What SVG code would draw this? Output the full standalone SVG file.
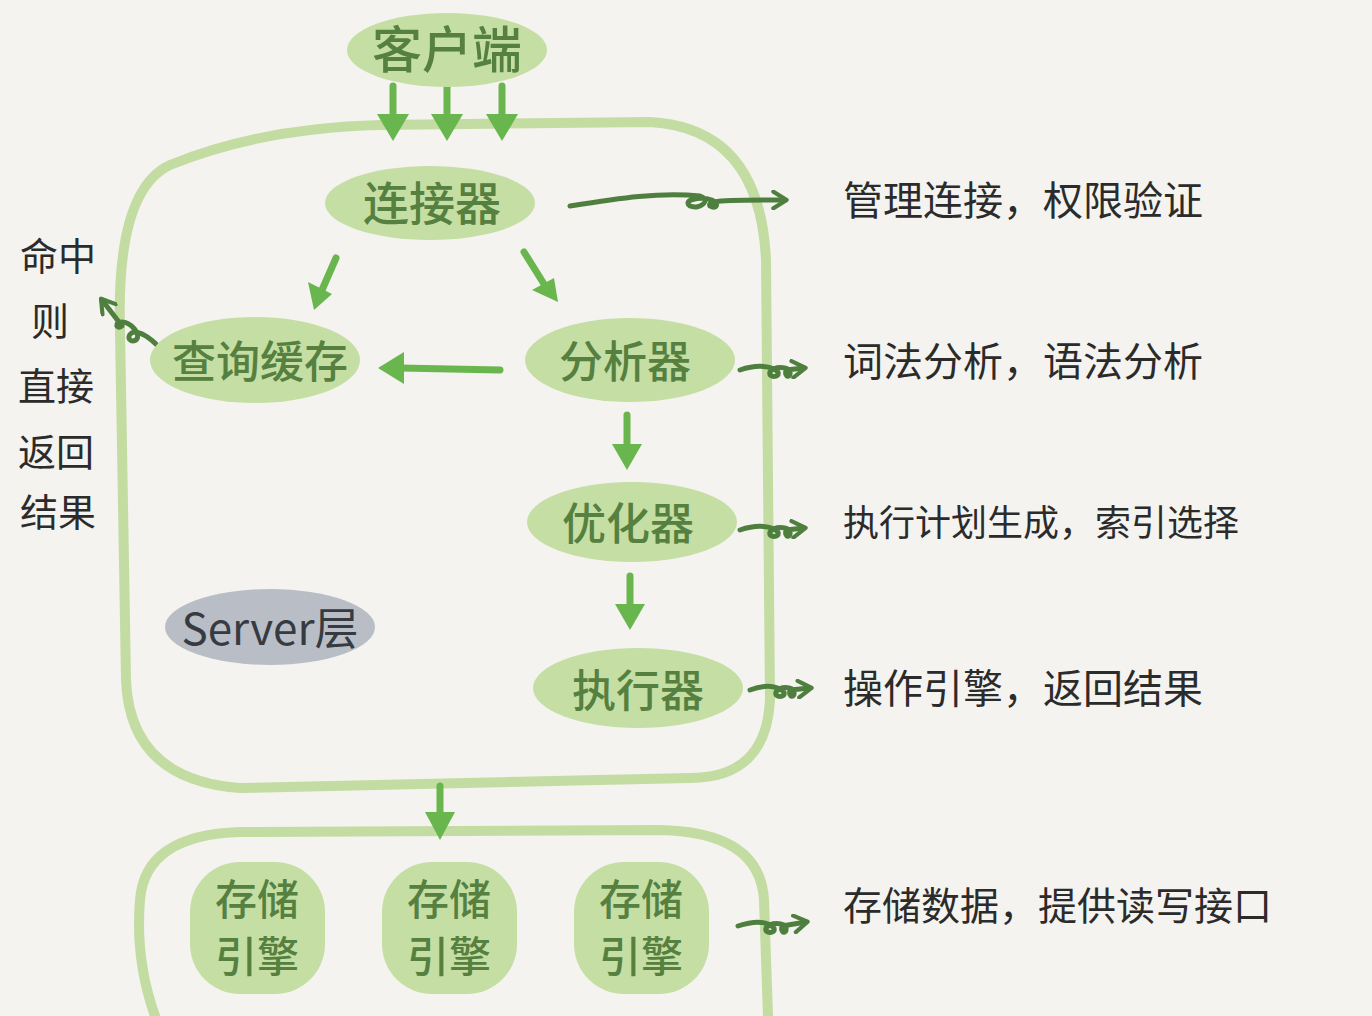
<svg xmlns="http://www.w3.org/2000/svg" width="1372" height="1016" viewBox="0 0 1372 1016">
<defs>
<style>
.bg{fill:#f4f3ef}
.node{fill:#c5dea4}
.frame{fill:none;stroke:#c3dca2;stroke-width:10;stroke-linecap:round;stroke-linejoin:round}
.lbl{font-family:"Noto Sans CJK SC","Noto Sans",sans-serif;fill:#55803f;font-weight:500;text-anchor:middle}
.note{font-family:"Noto Sans CJK SC","Noto Sans",sans-serif;fill:#2b2b2b}
.arr{stroke:#6ab64e;stroke-width:7;fill:none;stroke-linecap:round}
.head{fill:#6ab64e}
.curl{stroke:#4f7f3f;stroke-width:5;fill:none;stroke-linecap:round;stroke-linejoin:round}
</style>
<marker id="chev" viewBox="0 0 12 12" refX="9" refY="6" markerWidth="4" markerHeight="4" orient="auto" markerUnits="strokeWidth">
<path d="M2,1 L10,6 L2,11" fill="none" stroke="#4f7f3f" stroke-width="2.5" stroke-linecap="round" stroke-linejoin="round"/>
</marker>
</defs>
<rect class="bg" x="0" y="0" width="1372" height="1016"/>

<g id="server-frame">
<path class="frame" d="M380,125 L650,122 Q760,128 766,260 L770,700 Q766,778 690,778 L240,788 Q130,780 126,680 L120,330 Q116,190 170,165 Q260,128 380,125 Z"/>
</g>
<g id="storage-frame">
<path class="frame" d="M155,1016 Q135,960 140,900 Q145,835 240,832 L660,830 Q760,832 764,900 L768,1016"/>
</g>

<g id="connectors">
<line class="arr" x1="393" y1="86" x2="393" y2="115"/>
<polygon class="head" points="377,114 409,114 393,141"/>
<line class="arr" x1="447" y1="86" x2="447" y2="115"/>
<polygon class="head" points="431,114 463,114 447,141"/>
<line class="arr" x1="502" y1="86" x2="502" y2="115"/>
<polygon class="head" points="486,114 518,114 502,141"/>

<line class="arr" x1="336" y1="258" x2="322" y2="290"/>
<polygon class="head" points="308,282 332,294 314,310"/>
<line class="arr" x1="524" y1="252" x2="544" y2="284"/>
<polygon class="head" points="532,290 554,278 558,302"/>
<line class="arr" x1="500" y1="370" x2="400" y2="368"/>
<polygon class="head" points="404,352 404,384 378,368"/>
<line class="arr" x1="627" y1="415" x2="627" y2="446"/>
<polygon class="head" points="612,444 642,444 627,470"/>
<line class="arr" x1="630" y1="576" x2="630" y2="606"/>
<polygon class="head" points="615,604 645,604 630,630"/>
<line class="arr" x1="440" y1="786" x2="440" y2="814"/>
<polygon class="head" points="425,812 455,812 440,840"/>

<path class="curl" marker-end="url(#chev)" d="M570,206 C620,198 660,192 700,196 C712,200 700,210 690,206 C682,200 700,196 712,200 C720,204 716,210 710,206 C706,200 730,200 785,200"/>
<path class="curl" marker-end="url(#chev)" d="M740,370 C758,364 772,366 778,372 C780,378 768,378 770,372 C774,366 788,366 790,372 C791,378 784,378 786,370 L804,368"/>
<path class="curl" marker-end="url(#chev)" d="M740,530 C758,524 772,526 778,532 C780,538 768,538 770,532 C774,526 788,526 790,532 C791,538 784,538 786,530 L804,528"/>
<path class="curl" marker-end="url(#chev)" d="M750,690 C766,684 778,686 784,692 C786,698 774,698 776,692 C780,686 792,686 794,692 C795,698 788,698 790,690 L810,688"/>
<path class="curl" marker-end="url(#chev)" d="M738,926 C756,920 768,922 774,928 C776,934 764,934 766,928 C770,922 784,922 786,928 C787,934 780,934 782,926 L806,922"/>
<path class="curl" marker-end="url(#chev)" d="M158,346 C148,336 140,332 134,332 C126,334 128,344 136,340 C142,334 130,322 122,322 C114,322 116,330 122,326 L102,300"/>
</g>

<g id="client">
<ellipse class="node" cx="447" cy="50" rx="100" ry="37"/>
<text class="lbl" x="447" y="68" font-size="50">客户端</text>
</g>
<g id="connector">
<ellipse class="node" cx="430" cy="203" rx="105" ry="37"/>
<text class="lbl" x="432" y="220" font-size="46">连接器</text>
</g>
<g id="query-cache">
<ellipse class="node" cx="255" cy="360" rx="105" ry="43"/>
<text class="lbl" x="260" y="378" font-size="44">查询缓存</text>
</g>
<g id="analyzer">
<ellipse class="node" cx="630" cy="360" rx="105" ry="42"/>
<text class="lbl" x="625" y="378" font-size="44">分析器</text>
</g>
<g id="optimizer">
<ellipse class="node" cx="632" cy="522" rx="105" ry="40"/>
<text class="lbl" x="628" y="540" font-size="44">优化器</text>
</g>
<g id="executor">
<ellipse class="node" cx="638" cy="688" rx="105" ry="40"/>
<text class="lbl" x="638" y="707" font-size="44">执行器</text>
</g>
<g id="server-layer">
<ellipse cx="270" cy="627" rx="105" ry="38" fill="#b9bec6"/>
<text x="270" y="645" font-size="44" text-anchor="middle" fill="#363b42" font-family="'Noto Sans CJK SC','Noto Sans',sans-serif">Server层</text>
</g>

<g id="engine1">
<rect class="node" x="190" y="862" width="135" height="132" rx="50"/>
<text class="lbl" x="257" y="915" font-size="42">存储</text>
<text class="lbl" x="257" y="972" font-size="42">引擎</text>
</g>
<g id="engine2">
<rect class="node" x="382" y="862" width="135" height="132" rx="50"/>
<text class="lbl" x="449" y="915" font-size="42">存储</text>
<text class="lbl" x="449" y="972" font-size="42">引擎</text>
</g>
<g id="engine3">
<rect class="node" x="574" y="862" width="135" height="132" rx="50"/>
<text class="lbl" x="641" y="915" font-size="42">存储</text>
<text class="lbl" x="641" y="972" font-size="42">引擎</text>
</g>

<g id="notes">
<text class="note" x="843" y="215" font-size="40">管理连接，权限验证</text>
<text class="note" x="843" y="376" font-size="40">词法分析，语法分析</text>
<text class="note" x="843" y="536" font-size="36">执行计划生成，索引选择</text>
<text class="note" x="843" y="703" font-size="40">操作引擎，返回结果</text>
<text class="note" x="843" y="920" font-size="39">存储数据，提供读写接口</text>
</g>
<g id="hit-note">
<text class="note" x="58" y="270" font-size="38" text-anchor="middle">命中</text>
<text class="note" x="50" y="335" font-size="38" text-anchor="middle">则</text>
<text class="note" x="56" y="400" font-size="38" text-anchor="middle">直接</text>
<text class="note" x="56" y="466" font-size="38" text-anchor="middle">返回</text>
<text class="note" x="58" y="526" font-size="38" text-anchor="middle">结果</text>
</g>
</svg>
